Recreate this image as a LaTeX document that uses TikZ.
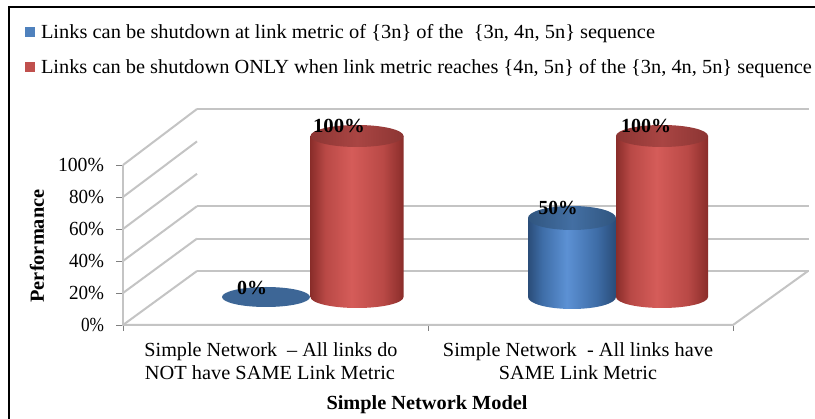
\documentclass[tikz,border=0pt]{standalone}
\usepackage{fontspec}
\setmainfont{Liberation Serif}
\usepackage{graphicx}

% palette
\definecolor{gridgray}{HTML}{C4C4C4}
\definecolor{tickdark}{HTML}{7F7F7F}
\definecolor{serA}{HTML}{4F81BD}
\definecolor{serB}{HTML}{C0504D}
\definecolor{redD}{HTML}{8A2D2A}
\definecolor{redM}{HTML}{B94946}
\definecolor{redL}{HTML}{D55C59}
\definecolor{redTD}{HTML}{8C3533}
\definecolor{redTL}{HTML}{A94543}
\definecolor{bluD}{HTML}{2A4C78}
\definecolor{bluM}{HTML}{3E6DA7}
\definecolor{bluL}{HTML}{5C91D4}
\definecolor{bluTD}{HTML}{30557F}
\definecolor{bluTL}{HTML}{436FA3}
\definecolor{bluFlat}{HTML}{3D6696}

% horizontal shadings for the cylinder walls and lids
\pgfdeclarehorizontalshading{redbody}{100bp}{color(0bp)=(redD); color(25bp)=(redD); color(33bp)=(redM); color(47bp)=(redL); color(64bp)=(redM); color(75bp)=(redD); color(100bp)=(redD)}
\pgfdeclarehorizontalshading{redlid}{100bp}{color(0bp)=(redTD); color(25bp)=(redTD); color(50bp)=(redTL); color(75bp)=(redTD); color(100bp)=(redTD)}
\pgfdeclarehorizontalshading{blubody}{100bp}{color(0bp)=(bluD); color(25bp)=(bluD); color(33bp)=(bluM); color(47bp)=(bluL); color(64bp)=(bluM); color(75bp)=(bluD); color(100bp)=(bluD)}
\pgfdeclarehorizontalshading{blulid}{100bp}{color(0bp)=(bluTD); color(25bp)=(bluTD); color(50bp)=(bluTL); color(75bp)=(bluTD); color(100bp)=(bluTD)}

% scale a line of text to a given width, keeping its height
\newcommand{\fitw}[2]{\resizebox{#1}{\height}{#2}}

% cylinder: centre x, base y, top y, x radius, y radius, body shading, lid shading
\newcommand{\cylbar}[7]{%
  \shade[shading=#6] (#1-#4,#3) -- (#1-#4,#2)
     arc[start angle=180, end angle=0, x radius=#4, y radius=#5]
     -- (#1+#4,#3) -- cycle;
  \shade[shading=#7] (#1,#3) ellipse[x radius=#4, y radius=#5];
}

\begin{document}
\begin{tikzpicture}[x=1pt, y=-1pt,
  txt/.style={inner sep=0pt, outer sep=0pt, font=\fontsize{20}{24}\selectfont},
  btxt/.style={txt, font=\fontsize{20}{24}\selectfont\bfseries},
  grid/.style={draw=gridgray, line width=2pt},
  tickmark/.style={draw=tickdark, line width=0.8pt}]
\useasboundingbox (0,0) rectangle (815,419);
\fill[white] (0,0) rectangle (815,419);

% outer frame (runs past the right and bottom edges)
\draw[line width=2pt] (9,7) rectangle (840,440);

% legend
\fill[serA] (25,27) rectangle (35,37);
\fill[serB] (25,62) rectangle (35,72);
\node[txt, anchor=base west] (legA) at (41,39)
  {\fitw{614pt}{Links can be shutdown at link metric of \{3n\} of the \ \{3n, 4n, 5n\} sequence}};
\node[txt, anchor=base west] (legB) at (41,74)
  {\fitw{771pt}{Links can be shutdown ONLY when link metric reaches \{4n, 5n\} of the \{3n, 4n, 5n\} sequence}};

% back wall gridlines (0, 20, 40 and 100 %)
\foreach \v in {0,20,40,100}
  \draw[grid] (197,{271-1.62*\v}) -- (809,{271-1.62*\v});
% side wall gridlines
\foreach \v in {0,20,...,100}
  \draw[grid] (123,{325-1.6*\v}) -- (197,{271-1.62*\v});
% front value axis and floor
\draw[grid] (123,165) -- (123,326);
\draw[grid] (122,325) -- (733,325) -- (808,271);

% ticks
\foreach \v in {0,20,...,100}
  \draw[tickmark] (116,{325-1.6*\v}) -- (122,{325-1.6*\v});
\foreach \x in {123,428,733}
  \draw[tickmark] (\x,326) -- (\x,331);

% value labels
\foreach \v in {0,20,...,100}
  \node[txt, anchor=east] (yl\v) at (104,{325-1.6*\v}) {\fitw{\ifnum\v=100 46pt\else\ifnum\v=0 23pt\else 35pt\fi\fi}{\v\%}};
\node[btxt, rotate=90] (ytitle) at (37,246) {\fitw{113pt}{Performance}};

% bars: first category
\fill[bluFlat] (266,297) ellipse[x radius=44, y radius=10];
\cylbar{357}{297}{136}{46.5}{11}{redbody}{redlid}
% bars: second category
\cylbar{572}{297}{218}{44}{12}{blubody}{blulid}
\cylbar{662}{297}{136}{46}{11}{redbody}{redlid}

% data labels
\node[btxt, anchor=base] (d1) at (252,295) {\fitw{30pt}{0\%}};
\node[btxt, anchor=base] (d2) at (339,133) {\fitw{52pt}{100\%}};
\node[btxt, anchor=base] (d3) at (558,215) {\fitw{39pt}{50\%}};
\node[btxt, anchor=base] (d4) at (646,133) {\fitw{50pt}{100\%}};

% category labels
\node[txt, anchor=base] (c1a) at (271,357) {\fitw{253pt}{Simple Network \ -- All links do}};
\node[txt, anchor=base] (c1b) at (270,380) {\fitw{250pt}{NOT have SAME Link Metric}};
\node[txt, anchor=base] (c2a) at (578,357) {\fitw{270pt}{Simple Network \ - All links have}};
\node[txt, anchor=base] (c2b) at (578,380) {\fitw{158pt}{SAME Link Metric}};
\node[btxt, anchor=base] (xtitle) at (427,410) {\fitw{201pt}{Simple Network Model}};
\end{tikzpicture}
\end{document}
